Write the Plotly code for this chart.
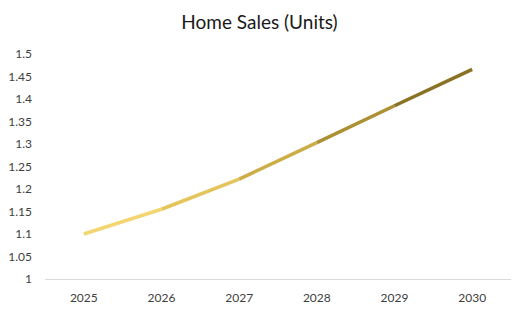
import plotly.graph_objects as go

years = ["2025", "2026", "2027", "2028", "2029", "2030"]
sales = [1.10, 1.155, 1.222, 1.303, 1.385, 1.466]
segment_colors = ["#F3D672", "#E4C55C", "#CCAD47", "#AE9034", "#8A7224"]

fig = go.Figure()
for i in range(len(years) - 1):
    fig.add_trace(go.Scatter(
        x=years[i:i + 2], y=sales[i:i + 2], mode="lines",
        line=dict(color=segment_colors[i], width=3.5),
        showlegend=False, hoverinfo="skip",
    ))

fig.update_layout(
    width=519, height=318,
    margin=dict(l=45, r=8, t=54, b=39),
    paper_bgcolor="white", plot_bgcolor="white",
    font=dict(family="Lato, Open Sans, sans-serif", size=12, color="#404040"),
    title=dict(text="Home Sales (Units)", x=0.5, xanchor="center", y=0.93, yanchor="middle",
               font=dict(size=19, color="#1a1a1a")),
    xaxis=dict(type="category", categoryorder="array", categoryarray=years,
               range=[-0.5, len(years) - 0.5],
               showgrid=False, showline=True, linecolor="#D9D9D9", linewidth=1,
               ticks="", ticklabelstandoff=8, zeroline=False),
    yaxis=dict(range=[1, 1.5], dtick=0.05, tick0=1, showgrid=False, zeroline=False,
               showline=False, ticks="", ticklabelstandoff=12),
)
fig.write_html("out.html")
